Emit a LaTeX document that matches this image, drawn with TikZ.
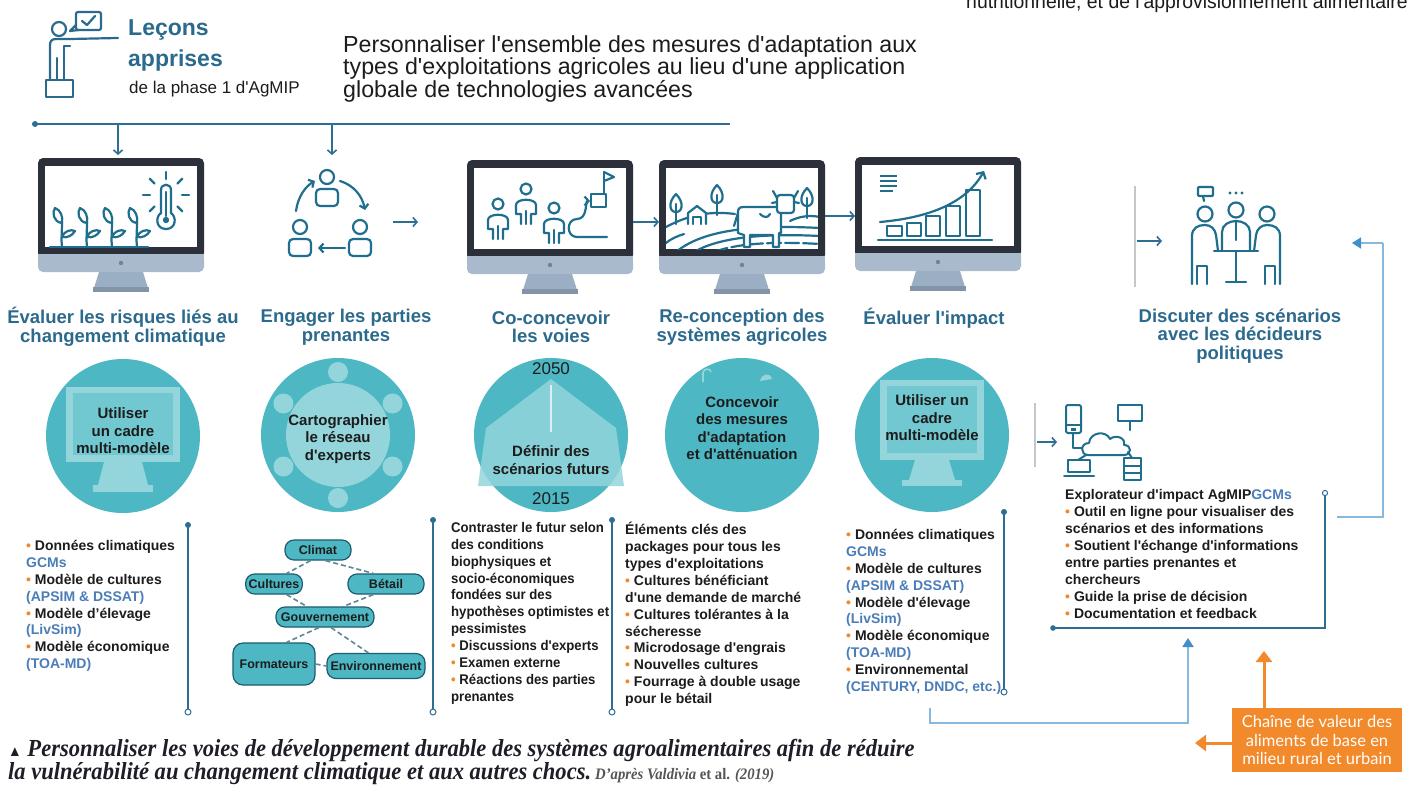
\documentclass[tikz,border=0pt]{standalone}
\usepackage{fontspec}
\setmainfont{Liberation Sans}
\newfontfamily\mainsans{Liberation Sans}
\newfontfamily\narrowfont{Liberation Sans}[FakeStretch=0.97]
\newfontfamily\slimfont{Liberation Sans}[FakeStretch=0.94]
\newfontfamily\capfont{Liberation Serif}[FakeStretch=0.92]
\newfontfamily\boxfont{Lato}
\usetikzlibrary{arrows.meta,calc}

\definecolor{headc}{HTML}{2B6A8C}
\definecolor{linec}{HTML}{2E6E92}
\definecolor{framec}{HTML}{2B303B}
\definecolor{chinc}{HTML}{A9BACD}
\definecolor{standc}{HTML}{9AAEC4}
\definecolor{icon}{HTML}{1F6E8E}
\definecolor{disc}{HTML}{4DB8C3}
\definecolor{discl}{HTML}{93D5DB}
\definecolor{discm}{HTML}{72C8D0}
\definecolor{bul}{HTML}{F08A2E}
\definecolor{mdlc}{HTML}{4B7DB8}
\definecolor{orng}{HTML}{F2892B}
\definecolor{fbc}{HTML}{86B9DD}
\definecolor{fbh}{HTML}{3E8FCB}
\definecolor{txt}{HTML}{1C1C1C}
\definecolor{netb}{HTML}{1D5C73}
\definecolor{dashc}{HTML}{5E8793}
\definecolor{capc}{HTML}{1E1E28}
\definecolor{srcc}{HTML}{555555}

\newcommand\bl{\textcolor{bul}{\textbullet}\ }
\newcommand\mdl[1]{\textcolor{mdlc}{#1}}

\tikzset{
  flow/.style={draw=linec, line width=1.6pt, -{Straight Barb[length=4pt,width=9pt]}},
  ttl/.style={font=\bfseries\fontsize{18.5}{18.5}\selectfont, text=headc, align=center, inner sep=0pt},
  disctxt/.style={font=\bfseries\fontsize{15}{17.5}\selectfont, text=txt, align=center, inner sep=0pt},
  lst/.style={font=\bfseries\fontsize{14}{16.9}\selectfont, text=txt, align=left, anchor=north west, inner sep=0pt},
  vrule/.style={draw=linec, line width=2pt},
  ico/.style={draw=icon, line width=2.2pt, line cap=round, line join=round},
  icoarrow/.style={-{Straight Barb[length=4pt,width=9pt]}},
  netbox/.style={draw=netb, line width=1.2pt, fill=disc, rounded corners=9pt,
    font=\bfseries\fontsize{12.5}{13}\selectfont, inner sep=3pt, minimum height=20pt, text=txt},
  netlink/.style={draw=dashc, line width=1.6pt, dash pattern=on 5pt off 3pt},
  fbline/.style={draw=fbc, line width=1.8pt},
  greyrule/.style={draw=gray!45, line width=1.2pt},
  monitor/.pic={
    \fill[framec, rounded corners=5pt] (0,0) rectangle (166,100);
    \fill[white] (7,8) rectangle (159,89);
    \fill[chinc, rounded corners=5pt] (0,96) rectangle (166,114);
    \fill[chinc] (0,96) rectangle (166,104);
    \fill[chinc!70!black] (83,105) circle (2.2);
    \fill[standc] (61,114) -- (105,114) -- (110,130) -- (56,130) -- cycle;
    \fill[standc!85!black] (55,129) rectangle (111,134);
  },
}

\begin{document}
\mainsans
\begin{tikzpicture}[x=1pt,y=-1pt]
\useasboundingbox (0,0) rectangle (1410,785);
\fill[white] (0,0) rectangle (1410,785);

% line of running text cut by the top edge
\begin{scope}
  \clip (0,0) rectangle (1410,785);
  \node[anchor=base west, inner sep=0, font=\narrowfont\fontsize{20}{20}\selectfont, text=txt] (toptail) at (966,8) {nutritionnelle, et de l'approvisionnement alimentaire};
\end{scope}

% ---------- header: presenter icon and lessons ----------
\begin{scope}[ico, draw=headc]
  \draw (59,29) circle (7);
  \draw (50,80) -- (50,45) .. controls (50,41) and (52,39) .. (56,39) -- (70,39) -- (118,38);
  \draw (70,46) -- (64,46) -- (64,80);
  \draw (57,58) -- (57,80);
  \draw (46,80) rectangle (73,97);
  \draw[rounded corners=2pt] (76,12) rectangle (101,30);
  \draw (76,25) -- (70,31) -- (79,30);
  \draw (82,21) -- (87,25) -- (95,16);
\end{scope}
\node[anchor=west, inner sep=0, text=headc, font=\bfseries\fontsize{23}{23}\selectfont] (lecons) at (128,30) {Leçons};
\node[anchor=west, inner sep=0, text=headc, font=\bfseries\fontsize{23}{23}\selectfont] (apprises) at (128,61) {apprises};
\node[anchor=west, inner sep=0, text=txt, font=\fontsize{17}{17}\selectfont] (phase) at (129,89) {de la phase 1 d'AgMIP};
\node[anchor=north west, inner sep=0, align=left, text=txt, font=\fontsize{23.2}{22.5}\selectfont] (intro) at (343,35)
  {Personnaliser l'ensemble des mesures d'adaptation aux\\types d'exploitations agricoles au lieu d'une application\\globale de technologies avancées};

% ---------- distribution bar ----------
\coordinate (busL) at (35,124);
\coordinate (busR) at (730,124);
\draw[linec, line width=2pt] (busL) -- (busR);
\fill[linec] (busL) circle (3);
\coordinate (dropA) at (118,124); \coordinate (dropAe) at (118,155);
\coordinate (dropB) at (332,124); \coordinate (dropBe) at (332,155);
\draw[flow] (dropA) -- (dropAe);
\draw[flow] (dropB) -- (dropBe);

% ---------- monitors ----------
\pic at (38,158) {monitor};
\pic at (467,160) {monitor};
\pic at (659,160) {monitor};
\pic at (855,157) {monitor};

% screen 1: seedlings and thermometer
\begin{scope}[ico]
  \draw (50,247) -- (148,247);
  \foreach \px in {62,87,112,137} {
    \draw (\px,247) .. controls (\px-1,240) and (\px,232) .. (\px,222);
    \draw (\px,223) .. controls (\px-9,222) and (\px-10,212) .. (\px-7,208) .. controls (\px-1,210) and (\px+1,217) .. (\px,223);
    \draw (\px,237) .. controls (\px+2,231) and (\px+9,229) .. (\px+13,231) .. controls (\px+10,236) and (\px+5,238) .. (\px,237);
  }
  \draw (161,213) -- (161,190) .. controls (161,183) and (171,183) .. (171,190) -- (171,213)
        .. controls (177,217) and (176,229) .. (166,229) .. controls (156,229) and (155,217) .. (161,213);
  \draw (166,192) -- (166,216);
  \fill[icon] (166,220) circle (3.2);
  \foreach \a in {0,45,135,180,225,270,315}
    \draw ($(166,195)+(\a:16)$) -- ($(166,195)+(\a:23)$);
\end{scope}

% stakeholders: three people in a cycle
\begin{scope}[ico]
  \draw (327,177) circle (7);
  \draw[rounded corners=4pt] (316,189) rectangle (338,206);
  \draw (300,227) circle (7);
  \draw[rounded corners=4pt] (289,239) rectangle (311,256);
  \draw (360,227) circle (7);
  \draw[rounded corners=4pt] (349,239) rectangle (371,256);
  \draw[icoarrow] (296,211) .. controls (298,196) and (306,186) .. (315,181);
  \draw[icoarrow] (340,181) .. controls (353,185) and (362,195) .. (365,210);
  \draw[icoarrow] (345,248) -- (318,248);
\end{scope}
\coordinate (stkA) at (393,222); \coordinate (stkB) at (418,222);
\draw[flow] (stkA) -- (stkB);

% screen 3: people and a winding path to a goal
\begin{scope}[ico]
  \foreach \hx/\hy in {498/204, 526/189, 554/208} {
    \draw (\hx,\hy) circle (5.5);
    \draw (\hx-5,\hy+35) -- (\hx-5,\hy+25) -- (\hx-10,\hy+25) -- (\hx-10,\hy+16)
          .. controls (\hx-10,\hy+9) and (\hx+10,\hy+9) .. (\hx+10,\hy+16) -- (\hx+10,\hy+25) -- (\hx+5,\hy+25) -- (\hx+5,\hy+35);
    \draw (\hx,\hy+22) -- (\hx,\hy+35);
  }
  \draw[icoarrow] (607,237) -- (577,237) .. controls (566,237) and (566,219) .. (577,219)
        .. controls (588,219) and (585,201) .. (590,201);
  \draw (591,194) rectangle (606,207);
  \draw (604,194) -- (604,172);
  \draw (604,172) -- (614,177) -- (604,181);
\end{scope}
\coordinate (m3r) at (633,222); \coordinate (m4l) at (659,222);
\draw[flow] (m3r) -- (m4l);

% screen 4: farm landscape
\begin{scope}
  \clip (666,168) rectangle (818,249);
  \begin{scope}[ico]
    \draw (666,227) .. controls (690,214) and (712,211) .. (735,214);
    \draw (790,221) .. controls (800,216) and (810,215) .. (820,217);
    \draw (676,252) .. controls (700,232) and (745,224) .. (820,228);
    \draw (694,252) .. controls (718,238) and (760,233) .. (820,236);
    \draw[dash pattern=on 14pt off 4pt] (714,252) .. controls (735,244) and (770,241) .. (820,244);
    \draw (666,243) .. controls (672,238) and (678,236) .. (684,234);
    \foreach \tx/\ty in {676/204, 717/195, 807/198} {
      \draw[fill=white] (\tx,\ty-10) .. controls (\tx+8,\ty-2) and (\tx+7,\ty+8) .. (\tx,\ty+8)
            .. controls (\tx-7,\ty+8) and (\tx-8,\ty-2) .. (\tx,\ty-10);
      \draw (\tx,\ty) -- (\tx,\ty+20);
    }
    \draw[fill=white] (688,224) -- (688,213) -- (697,206) -- (706,213) -- (706,224);
    \draw (693,224) -- (693,217) -- (701,217) -- (701,224);
    \draw[fill=white] (738,212) .. controls (738,208) and (740,207) .. (744,207) -- (781,207) -- (781,214)
          -- (781,233) -- (779,233) -- (779,247) -- (773,247) -- (773,235) -- (750,235)
          -- (750,247) -- (744,247) -- (744,235) -- (738,233) -- cycle;
    \draw[fill=white, rounded corners=3pt] (777,195) rectangle (794,213);
    \draw (777,198) -- (773,191);
    \draw (794,198) -- (798,191);
    \draw (777,202) -- (772,203);
    \draw (794,202) -- (799,203);
    \draw (738,213) -- (734,226);
    \draw (760,214) .. controls (764,218) and (768,218) .. (770,214);
  \end{scope}
\end{scope}
\coordinate (m4r) at (825,216); \coordinate (m5l) at (855,216);
\draw[flow] (m4r) -- (m5l);

% screen 5: growth chart
\begin{scope}[ico]
  \foreach \ly in {176,181,186}
    \draw[line width=2.6pt, line cap=butt] (880,\ly) -- (897,\ly);
  \draw[line width=2.6pt, line cap=butt] (880,191) -- (893,191);
  \draw (878,240) -- (992,240);
  \draw (887,226) rectangle (902,236);
  \draw (907,223) rectangle (921,236);
  \draw (926,216) rectangle (940,236);
  \draw (946,206) rectangle (960,236);
  \draw (966,190) rectangle (980,236);
  \draw[-{Straight Barb[length=5pt,width=11pt]}] (880,222) .. controls (925,218) and (965,205) .. (984,171);
\end{scope}

% policy discussion icon
\begin{scope}[ico]
  \draw (1205,214) circle (7.5);
  \draw (1236,210) circle (7.5);
  \draw (1267,214) circle (7.5);
  \draw (1192,284) -- (1192,236) .. controls (1192,228) and (1198,225) .. (1205,225)
        .. controls (1211,225) and (1215,229) .. (1216,235) -- (1218,251);
  \draw (1197,284) -- (1197,266) -- (1207,266) -- (1207,284);
  \draw (1280,284) -- (1280,236) .. controls (1280,228) and (1274,225) .. (1267,225)
        .. controls (1261,225) and (1257,229) .. (1256,235) -- (1254,251);
  \draw (1275,284) -- (1275,266) -- (1265,266) -- (1265,284);
  \draw (1222,251) -- (1222,232) .. controls (1222,225) and (1229,221) .. (1236,221)
        .. controls (1243,221) and (1250,225) .. (1250,232) -- (1250,251);
  \draw (1236,221) -- (1236,240);
  \draw (1214,251) -- (1258,251);
  \draw (1236,251) -- (1236,282);
  \draw (1226,282) -- (1246,282);
  \draw[rounded corners=1pt] (1198,187) rectangle (1213,196);
  \draw (1203,196) -- (1204,201);
  \foreach \dx in {1230,1236,1242} \fill[icon] (\dx,193) circle (1.6);
\end{scope}
\coordinate (gA) at (1135,186); \coordinate (gB) at (1135,287);
\draw[greyrule] (gA) -- (gB);
\coordinate (dA) at (1137,241); \coordinate (dB) at (1162,241);
\draw[flow] (dA) -- (dB);

% ---------- step titles ----------
\node[ttl] (t1) at (123,327) {Évaluer les risques liés au\\changement climatique};
\node[ttl] (t2) at (346,327) {Engager les parties\\prenantes};
\node[ttl] (t3) at (551,327) {Co-concevoir\\les voies};
\node[ttl] (t4) at (742,327) {Re-conception des\\systèmes agricoles};
\node[ttl] (t5) at (934,318) {Évaluer l'impact};
\node[ttl] (t6) at (1240,336) {Discuter des scénarios\\avec les décideurs\\politiques};

% ---------- discs ----------
% disc 1: multi-model framework
\fill[disc] (123,436) circle (77);
\fill[discl] (66,387) rectangle (180,462);
\fill[discm] (73,393) rectangle (173,455);
\fill[discl] (104,462) -- (142,462) -- (148,485) -- (98,485) -- cycle;
\fill[discl] (93,485) rectangle (153,492);
\node[disctxt] (c1) at (123,431) {Utiliser\\un cadre\\multi-modèle};

% disc 2: expert network
\fill[disc] (338,435) circle (77);
\foreach \a in {0,60,...,300}
  \fill[discl] ($(338,435)+(\a+90:63)$) circle (10);
\fill[discl] (338,435) circle (52);
\node[disctxt] (c2) at (338,439) {Cartographier\\le réseau\\d'experts};

% disc 3: future scenarios
\fill[disc] (551,435) circle (77);
\fill[discl, opacity=0.85] (551,379) -- (616,428) -- (624,486) -- (478,486) -- (486,428) -- cycle;
\draw[white, opacity=0.7, line width=1.5pt] (551,385) -- (551,432);
\node[inner sep=0, text=txt, font=\fontsize{17}{17}\selectfont] (y2050) at (551,369) {2050};
\node[inner sep=0, text=txt, font=\fontsize{17}{17}\selectfont] (y2015) at (551,499) {2015};
\node[disctxt] (c3) at (551,460) {Définir des\\scénarios futurs};

% disc 4: adaptation measures
\fill[disc] (742,435) circle (77);
\draw[discl, line width=1.6pt] (703,382) -- (703,373) .. controls (703,368) and (711,368) .. (711,372);
\fill[discl] (760,381) .. controls (762,373) and (770,372) .. (772,379) -- cycle;
\node[disctxt] (c4) at (742,428) {Concevoir\\des mesures\\d'adaptation\\et d'atténuation};

% disc 5: multi-model framework
\fill[disc] (932,435) circle (77);
\fill[discl] (880,380) rectangle (984,460);
\fill[discm] (887,386) rectangle (977,453);
\fill[discl] (915,460) -- (949,460) -- (955,480) -- (909,480) -- cycle;
\fill[discl] (902,480) rectangle (962,486);
\node[disctxt] (c5) at (932,418) {Utiliser un\\cadre\\multi-modèle};

% ---------- explorer tool ----------
\coordinate (gC) at (1035,403); \coordinate (gD) at (1035,467);
\draw[greyrule] (gC) -- (gD);
\coordinate (eA) at (1037,442); \coordinate (eB) at (1057,442);
\draw[flow] (eA) -- (eB);
\begin{scope}[ico, line width=2pt]
  \draw[rounded corners=2pt] (1066,405) rectangle (1081,433);
  \draw (1066,425) -- (1081,425);
  \fill[icon] (1071,428) rectangle (1076,431);
  \draw (1118,405) rectangle (1142,421);
  \draw (1130,421) -- (1130,430);
  \draw[fill=white] (1088,455) .. controls (1080,455) and (1080,443) .. (1089,443)
        .. controls (1090,432) and (1106,430) .. (1110,439) .. controls (1116,434) and (1126,438) .. (1124,445)
        .. controls (1132,445) and (1132,455) .. (1124,455) -- cycle;
  \draw (1073,433) -- (1073,448) -- (1082,448);
  \draw (1086,455) -- (1078,460);
  \draw (1128,452) -- (1132,458);
  \draw (1068,460) rectangle (1090,472);
  \draw (1064,476) -- (1094,476);
  \draw (1124,458) rectangle (1141,480);
  \draw (1124,466) -- (1141,466);
  \draw (1124,473) -- (1141,473);
\end{scope}
\node[lst, font=\bfseries\fontsize{14}{17}\selectfont] (expl) at (1065,489)
  {Explorateur d'impact AgMIP\mdl{GCMs}\\
   \bl Outil en ligne pour visualiser des\\
   scénarios et des informations\\
   \bl Soutient l'échange d'informations\\
   entre parties prenantes et\\
   chercheurs\\
   \bl Guide la prise de décision\\
   \bl Documentation et feedback};
\coordinate (brT) at (1325,493);
\coordinate (brB) at (1325,628);
\coordinate (brL) at (1053,628);
\draw[vrule, line width=1.8pt] (brT) -- (brB) -- (brL);
\draw[linec, fill=white, line width=1pt] (brT) circle (2.6);
\fill[linec] (brL) circle (2.8);

% ---------- detail lists ----------
\node[lst] (l1) at (26,540)
  {\bl Données climatiques\\
   \mdl{GCMs}\\
   \bl Modèle de cultures\\
   \mdl{(APSIM \& DSSAT)}\\
   \bl Modèle d’élevage\\
   \mdl{(LivSim)}\\
   \bl Modèle économique\\
   \mdl{(TOA-MD)}};

\node[netbox, minimum width=66pt] (climat) at (318,550) {Climat};
\node[netbox, minimum width=56pt] (cultures) at (274,584) {Cultures};
\node[netbox, minimum width=76pt] (betail) at (386,584) {Bétail};
\node[netbox, minimum width=98pt] (gouv) at (325,617) {Gouvernement};
\node[netbox, minimum width=82pt, minimum height=42pt, rounded corners=10pt] (form) at (274,664) {Formateurs};
\node[netbox, minimum width=98pt, minimum height=25pt] (env) at (376,666) {Environnement};
\draw[netlink] (climat.235) -- (cultures.40);
\draw[netlink] (climat.305) -- (betail.140);
\draw[netlink] (cultures.320) -- (gouv.150);
\draw[netlink] (betail.220) -- (gouv.30);
\draw[netlink] (gouv.240) -- (form.60);
\draw[netlink] (gouv.300) -- (env.120);
\draw[netlink] (form.east) -- (env.west);

\node[lst, font=\slimfont\bfseries\fontsize{14}{16.9}\selectfont] (l3) at (451,522)
  {Contraster le futur selon\\
   des conditions\\
   biophysiques et\\
   socio-économiques\\
   fondées sur des\\
   hypothèses optimistes et\\
   pessimistes\\
   \bl Discussions d'experts\\
   \bl Examen externe\\
   \bl Réactions des parties\\
   prenantes};

\node[lst] (l4) at (625,522)
  {Éléments clés des\\
   packages pour tous les\\
   types d'exploitations\\
   \bl Cultures bénéficiant\\
   d'une demande de marché\\
   \bl Cultures tolérantes à la\\
   sécheresse\\
   \bl Microdosage d'engrais\\
   \bl Nouvelles cultures\\
   \bl Fourrage à double usage\\
   pour le bétail};

\node[lst] (l5) at (846,529)
  {\bl Données climatiques\\
   \mdl{GCMs}\\
   \bl Modèle de cultures\\
   \mdl{(APSIM \& DSSAT)}\\
   \bl Modèle d'élevage\\
   \mdl{(LivSim)}\\
   \bl Modèle économique\\
   \mdl{(TOA-MD)}\\
   \bl Environnemental\\
   \mdl{(CENTURY, DNDC, etc.)}};

% separator rules: solid dot on top, ring at the bottom
\foreach \rx/\ra/\rb in {188/525/712, 433/520/712, 612/520/712, 1004/512/692} {
  \draw[vrule] (\rx,\ra) -- (\rx,\rb);
  \fill[linec] (\rx,\ra) circle (3);
  \draw[linec, fill=white, line width=1pt] (\rx,\rb) circle (3);
}

% ---------- feedback loops ----------
\coordinate (fbA) at (1383,517);
\coordinate (fbB) at (1337,517);
\coordinate (fbC) at (1383,243);
\coordinate (fbD) at (1352,243);
\draw[fbline] (fbB) -- (fbA) -- (fbC);
\draw[fbc, line width=1.4pt, -{Triangle[length=9pt,width=11pt,fbh]}] (fbC) -- (fbD);
\coordinate (lpA) at (930,708);
\coordinate (lpB) at (930,723);
\coordinate (lpC) at (1188,723);
\coordinate (lpD) at (1188,638);
\draw[fbline, -{Triangle[length=9pt,width=11pt,fbh]}] (lpA) -- (lpB) -- (lpC) -- (lpD);

% ---------- value chain box ----------
\node[fill=orng, text=white, font=\boxfont\fontsize{16.5}{18.5}\selectfont, align=center,
      minimum width=170pt, minimum height=64pt, inner sep=2pt] (chain) at (1317,740)
  {Chaîne de valeur des\\aliments de base en\\milieu rural et urbain};
\coordinate (chainUp) at (1264,651);
\coordinate (chainL) at (1195,743);
\draw[orng, line width=3pt, -{Triangle[length=11pt,width=16pt]}] (chain.north -| chainUp) -- (chainUp);
\draw[orng, line width=3pt, -{Triangle[length=11pt,width=16pt]}] (chain.west |- chainL) -- (chainL);

% ---------- caption ----------
\node[anchor=base west, inner sep=0, text=capc, font=\capfont\bfseries\itshape\fontsize{24.5}{24.5}\selectfont] (cap1) at (8,756)
  {{\upshape\fontsize{15}{15}\selectfont ▲} Personnaliser les voies de développement durable des systèmes agroalimentaires afin de réduire};
\node[anchor=base west, inner sep=0, text=capc, font=\capfont\bfseries\itshape\fontsize{24.5}{24.5}\selectfont] (cap2) at (8,779)
  {la vulnérabilité au changement climatique et aux autres chocs.\,{\fontsize{16}{16}\selectfont\color{srcc}D’après Valdivia {\upshape et al.} (2019)}};

\end{tikzpicture}
\end{document}
